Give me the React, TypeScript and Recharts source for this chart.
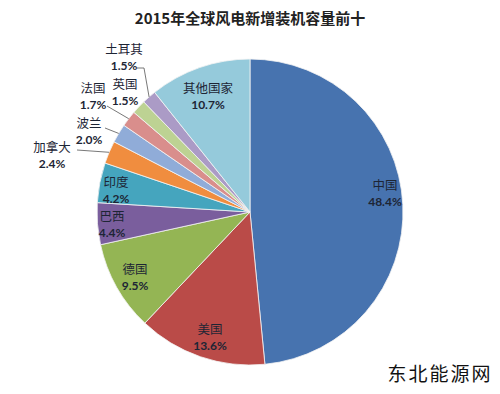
import React from 'react';
import { PieChart, Pie, Cell } from 'recharts';

const countries = ['中国', '美国', '德国', '巴西', '印度', '加拿大', '波兰', '法国', '英国', '土耳其', '其他国家'];
const shares = [48.4, 13.6, 9.5, 4.4, 4.2, 2.4, 2.0, 1.7, 1.5, 1.5, 10.7];
const colors = [
  '#4773AF', '#BA4B48', '#94B554', '#7A5E9D', '#45A5BE', '#F08D3F',
  '#90ACD8', '#D98E8C', '#BDD293', '#AB9BC6', '#95CADB',
];

// label anchor (name line centre) and optional leader line start
const labelPos: { x: number; y: number; line?: [number, number] }[] = [
  { x: 385, y: 185 },
  { x: 210, y: 329 },
  { x: 135, y: 269 },
  { x: 112, y: 216 },
  { x: 116, y: 182 },
  { x: 52, y: 147, line: [77, 150] },
  { x: 89, y: 123, line: [105, 128] },
  { x: 93, y: 88, line: [107, 106] },
  { x: 125, y: 84 },
  { x: 124, y: 49, line: [137, 68] },
  { x: 208, y: 88 },
];

const data = countries.map((name, i) => ({ name, value: shares[i] }));

const RAD = Math.PI / 180;

const renderLabel = (props: any) => {
  const { cx, cy, midAngle, outerRadius, index } = props;
  const p = labelPos[index];
  const ex = cx + outerRadius * Math.cos(-midAngle * RAD);
  const ey = cy + outerRadius * Math.sin(-midAngle * RAD);
  let line = null;
  if (p.line) {
    const [sx, sy] = p.line;
    const pts = index === 9 ? `${sx},${sy} ${sx + 7},${sy} ${ex},${ey}` : `${sx},${sy} ${ex},${ey}`;
    line = <polyline points={pts} fill="none" stroke="#555" strokeWidth={0.8} />;
  }
  return (
    <g key={`lbl-${index}`}>
      {line}
      <text x={p.x} y={p.y + 4.5} textAnchor="middle" fill="#1d2535">
        <tspan x={p.x} fontSize={12.5}>{countries[index]}</tspan>
        <tspan x={p.x} dy={16.5} fontSize={12} fontWeight="bold" fontFamily="Lato, sans-serif">
          {shares[index].toFixed(1)}%
        </tspan>
      </text>
    </g>
  );
};

export default function App() {
  return (
    <div style={{ position: 'absolute', left: 0, top: 0, width: 500, height: 394, background: '#fff', fontFamily: '"Noto Sans CJK SC", "Noto Sans", sans-serif' }}>
      <PieChart width={500} height={394} margin={{ top: 0, right: 0, bottom: 0, left: 0 }}>
        <text x={250} y={17} textAnchor="middle" dominantBaseline="central" fontSize={15} fontWeight="bold" fill="#222">
          2015年全球风电新增装机容量前十
        </text>
        <Pie
          data={data}
          dataKey="value"
          nameKey="name"
          cx={250}
          cy={212}
          outerRadius={153}
          startAngle={90}
          endAngle={-270}
          stroke="#f4f4f4"
          strokeWidth={0.8}
          label={renderLabel}
          labelLine={false}
          isAnimationActive={false}
        >
          {data.map((d, i) => (
            <Cell key={d.name} fill={colors[i]} />
          ))}
        </Pie>
        <text x={440} y={372} textAnchor="middle" dominantBaseline="central" fontSize={19} fill="#111" letterSpacing={2}>
          东北能源网
        </text>
      </PieChart>
    </div>
  );
}
